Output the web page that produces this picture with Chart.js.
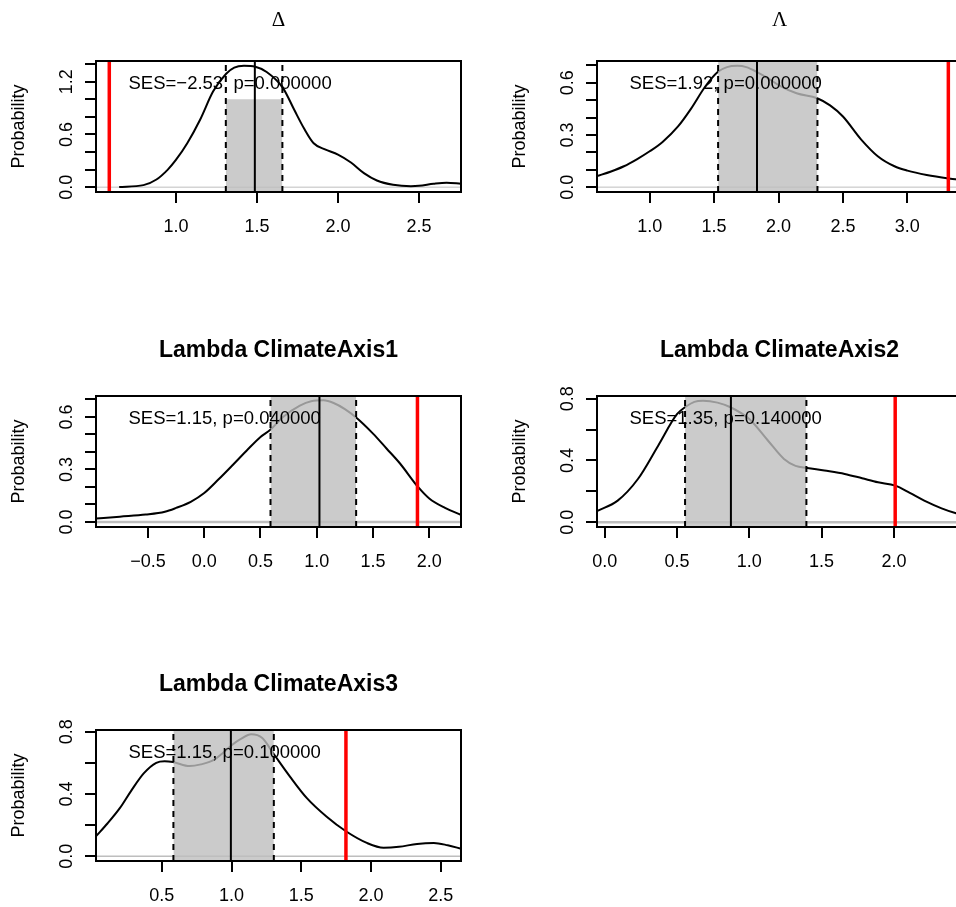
<!DOCTYPE html>
<html>
<head>
<meta charset="utf-8">
<script src="https://cdn.jsdelivr.net/npm/chart.js@4.4.0/dist/chart.umd.min.js"></script>
<style>
html, body { margin: 0; padding: 0; background: #fff; overflow: hidden; width: 956px; height: 907px; }
.panel { position: absolute; width: 501px; height: 335px; }
</style>
</head>
<body>
<div class="panel" style="left:0px;top:0px"><canvas id="p0"></canvas></div>
<div class="panel" style="left:501px;top:0px"><canvas id="p1"></canvas></div>
<div class="panel" style="left:0px;top:335px"><canvas id="p2"></canvas></div>
<div class="panel" style="left:501px;top:335px"><canvas id="p3"></canvas></div>
<div class="panel" style="left:0px;top:669px"><canvas id="p4"></canvas></div>
<script>
// panel titles and the SES annotation of each panel
const titles = ['Δ', 'Λ', 'Lambda ClimateAxis1', 'Lambda ClimateAxis2', 'Lambda ClimateAxis3'];
const sesLabels = ['SES=−2.53, p=0.000000', 'SES=1.92, p=0.000000', 'SES=1.15, p=0.040000', 'SES=1.35, p=0.140000', 'SES=1.15, p=0.100000'];

// density curves
const deltaX = [0.65, 0.80, 0.88, 0.95, 1.00, 1.07, 1.15, 1.23, 1.31, 1.36, 1.42, 1.49, 1.56, 1.66, 1.73, 1.79, 1.85, 1.92, 2.00, 2.08, 2.16, 2.24, 2.34, 2.45, 2.50, 2.59, 2.67, 2.76];
const deltaY = [0.003, 0.023, 0.087, 0.20, 0.31, 0.50, 0.77, 1.09, 1.29, 1.36, 1.38, 1.37, 1.31, 1.13, 0.88, 0.67, 0.50, 0.43, 0.37, 0.28, 0.16, 0.076, 0.027, 0.011, 0.015, 0.038, 0.05, 0.04];
const lambdaX = [0.59, 0.70, 0.80, 0.90, 1.00, 1.10, 1.22, 1.32, 1.43, 1.53, 1.60, 1.68, 1.75, 1.83, 1.92, 2.00, 2.14, 2.30, 2.40, 2.50, 2.64, 2.77, 2.90, 3.00, 3.15, 3.32, 3.43];
const lambdaY = [0.063, 0.09, 0.12, 0.16, 0.206, 0.26, 0.349, 0.45, 0.577, 0.663, 0.69, 0.697, 0.69, 0.663, 0.625, 0.587, 0.54, 0.511, 0.47, 0.406, 0.275, 0.178, 0.12, 0.095, 0.07, 0.05, 0.04];
const axis1X = [-0.96, -0.75, -0.52, -0.35, -0.25, -0.12, 0.00, 0.13, 0.26, 0.38, 0.50, 0.59, 0.70, 0.85, 0.95, 1.06, 1.15, 1.25, 1.35, 1.50, 1.62, 1.74, 1.90, 2.00, 2.14, 2.29];
const axis1Y = [0.019, 0.03, 0.042, 0.058, 0.08, 0.115, 0.165, 0.245, 0.33, 0.41, 0.486, 0.528, 0.60, 0.665, 0.69, 0.695, 0.68, 0.645, 0.597, 0.505, 0.42, 0.334, 0.20, 0.134, 0.08, 0.038];
const axis2X = [-0.05, 0.09, 0.23, 0.37, 0.50, 0.56, 0.62, 0.68, 0.78, 0.87, 1.00, 1.13, 1.24, 1.32, 1.40, 1.52, 1.66, 1.78, 1.89, 2.01, 2.11, 2.21, 2.33, 2.43, 2.47];
const axis2Y = [0.074, 0.14, 0.28, 0.496, 0.70, 0.748, 0.78, 0.787, 0.775, 0.745, 0.669, 0.528, 0.41, 0.365, 0.352, 0.335, 0.313, 0.285, 0.259, 0.237, 0.19, 0.14, 0.09, 0.058, 0.05];
const axis3X = [0.03, 0.11, 0.20, 0.28, 0.37, 0.46, 0.52, 0.58, 0.70, 0.78, 0.87, 0.94, 1.00, 1.07, 1.14, 1.22, 1.30, 1.42, 1.54, 1.68, 1.82, 1.97, 2.09, 2.20, 2.33, 2.45, 2.55, 2.65];
const axis3Y = [0.13, 0.21, 0.31, 0.42, 0.532, 0.60, 0.61, 0.605, 0.579, 0.59, 0.617, 0.665, 0.713, 0.755, 0.783, 0.76, 0.66, 0.51, 0.373, 0.255, 0.16, 0.085, 0.054, 0.06, 0.079, 0.085, 0.07, 0.047];

// observed value (red), median and interval of the null distribution
const observed = [0.589, 3.318, 1.895, 2.009, 1.82];
const medians = [1.487, 1.833, 1.024, 0.873, 0.995];
const ciLow = [1.308, 1.531, 0.589, 0.556, 0.583];
const ciHigh = [1.657, 2.302, 1.35, 1.395, 1.303];
const shadeTop = [1, 1, 1, 1, 1];

// axes
const xLimits = [[0.507, 2.759], [0.591, 3.424], [-0.962, 2.282], [-0.053, 2.471], [0.028, 2.645]];
const yLimits = [[-0.055, 1.435], [-0.028, 0.725], [-0.029, 0.72], [-0.031, 0.818], [-0.031, 0.811]];
const xTicks = [[1, 1.5, 2, 2.5], [1, 1.5, 2, 2.5, 3], [-0.5, 0, 0.5, 1, 1.5, 2], [0, 0.5, 1, 1.5, 2], [0.5, 1, 1.5, 2, 2.5]];
const yTicks = [[0, 0.2, 0.4, 0.6, 0.8, 1, 1.2, 1.4], [0, 0.1, 0.2, 0.3, 0.4, 0.5, 0.6, 0.7], [0, 0.1, 0.2, 0.3, 0.4, 0.5, 0.6, 0.7], [0, 0.2, 0.4, 0.6, 0.8], [0, 0.2, 0.4, 0.6, 0.8]];
const yLabelled = [[0, 0.6, 1.2], [0, 0.3, 0.6], [0, 0.3, 0.6], [0, 0.4, 0.8], [0, 0.4, 0.8]];

var curves = [[deltaX, deltaY], [lambdaX, lambdaY], [axis1X, axis1Y], [axis2X, axis2Y], [axis3X, axis3Y]];
var zeroWidths = [1, 1, 2.5, 2.5, 1.5];

Chart.defaults.font.family = '"Liberation Sans", Arial, sans-serif';
Chart.defaults.color = '#000';

function fmt(v) {
    return v.toFixed(1).replace('-', '\u2212');
}

function points(xs, ys) {
    return xs.map(function (x, k) { return { x: x, y: ys[k] }; });
}

// box round the plot region and the SES text
var boxAndText = {
    id: 'boxAndText',
    afterDatasetsDraw: function (chart, args, opts) {
        var a = chart.chartArea, c = chart.ctx;
        c.save();
        c.fillStyle = '#000';
        c.font = '18.5px "Liberation Sans", Arial, sans-serif';
        c.textAlign = 'left';
        c.textBaseline = 'middle';
        c.fillText(sesLabels[opts.index], a.left + 32.5, a.top + 23);
        c.restore();
    },
    afterDraw: function (chart) {
        var a = chart.chartArea, c = chart.ctx;
        c.save();
        c.strokeStyle = '#000';
        c.lineWidth = 2;
        c.strokeRect(a.left, a.top, a.right - a.left, a.bottom - a.top);
        c.restore();
    }
};

function makePanel(i) {
    var yMin = yLimits[i][0], yMax = yLimits[i][1];
    var xMin = xLimits[i][0], xMax = xLimits[i][1];
    var greek = i < 2;
    var ctx = document.getElementById('p' + i).getContext('2d');
    return new Chart(ctx, {
        type: 'scatter',
        data: {
            datasets: [
                { data: [{ x: observed[i], y: yMin }, { x: observed[i], y: yMax }], showLine: true, borderColor: 'rgb(255,0,0)', borderWidth: 3.5, pointRadius: 0 },
                { data: [{ x: medians[i], y: yMin }, { x: medians[i], y: yMax }], showLine: true, borderColor: '#000', borderWidth: 2, pointRadius: 0 },
                { data: [{ x: ciLow[i], y: yMin }, { x: ciLow[i], y: yMax }], showLine: true, borderColor: '#000', borderWidth: 2, borderDash: [6, 5], pointRadius: 0 },
                { data: [{ x: ciHigh[i], y: yMin }, { x: ciHigh[i], y: yMax }], showLine: true, borderColor: '#000', borderWidth: 2, borderDash: [6, 5], pointRadius: 0 },
                { data: [{ x: ciLow[i], y: shadeTop[i] }, { x: ciHigh[i], y: shadeTop[i] }], showLine: true, borderColor: 'transparent', borderWidth: 0, pointRadius: 0, fill: 'start', backgroundColor: 'rgba(190,190,190,0.8)' },
                { data: points(curves[i][0], curves[i][1]), showLine: true, borderColor: '#000', borderWidth: 2, pointRadius: 0, cubicInterpolationMode: 'monotone' },
                { data: [{ x: xMin, y: 0 }, { x: xMax, y: 0 }], showLine: true, borderColor: '#BEBEBE', borderWidth: zeroWidths[i], pointRadius: 0 }
            ]
        },
        options: {
            responsive: true,
            maintainAspectRatio: false,
            animation: false,
            devicePixelRatio: 1,
            events: [],
            layout: { padding: { left: 0, right: 40, top: 0, bottom: 0 } },
            plugins: {
                legend: { display: false },
                tooltip: { enabled: false },
                title: {
                    display: true,
                    fullSize: false,
                    text: titles[i],
                    color: '#000',
                    font: greek ? { family: '"Liberation Serif", serif', size: 21, weight: 'normal' } : { size: 23, weight: 'bold' },
                    padding: greek ? { top: 8.2, bottom: 27.6 } : { top: 2, bottom: 31.4 }
                },
                boxAndText: { index: i }
            },
            scales: {
                x: {
                    type: 'linear',
                    min: xMin,
                    max: xMax,
                    afterBuildTicks: function (axis) { axis.ticks = xTicks[i].map(function (v) { return { value: v }; }); },
                    afterFit: function (s) { s.height = 143; },
                    border: { display: false },
                    grid: { drawOnChartArea: false, color: '#000', lineWidth: 2, tickLength: 11 },
                    ticks: { font: { size: 18 }, padding: 13, maxRotation: 0, autoSkip: false, callback: function (v) { return fmt(v); } }
                },
                y: {
                    type: 'linear',
                    min: yMin,
                    max: yMax,
                    afterBuildTicks: function (axis) { axis.ticks = yTicks[i].map(function (v) { return { value: v }; }); },
                    afterFit: function (s) { s.width = 96; },
                    border: { display: false },
                    grid: { drawOnChartArea: false, color: '#000', lineWidth: 2, tickLength: 11 },
                    ticks: {
                        font: { size: 18 }, padding: 5, minRotation: 90, maxRotation: 90, crossAlign: 'center', autoSkip: false,
                        callback: function (v) {
                            var hit = yLabelled[i].some(function (w) { return Math.abs(w - v) < 1e-9; });
                            return hit ? fmt(v) : '';
                        }
                    },
                    title: { display: true, text: 'Probability', color: '#000', font: { size: 18 }, padding: { top: 8, bottom: 0 } }
                }
            }
        },
        plugins: [boxAndText]
    });
}

for (var i = 0; i < 5; i++) {
    makePanel(i);
}
</script>
</body>
</html>
